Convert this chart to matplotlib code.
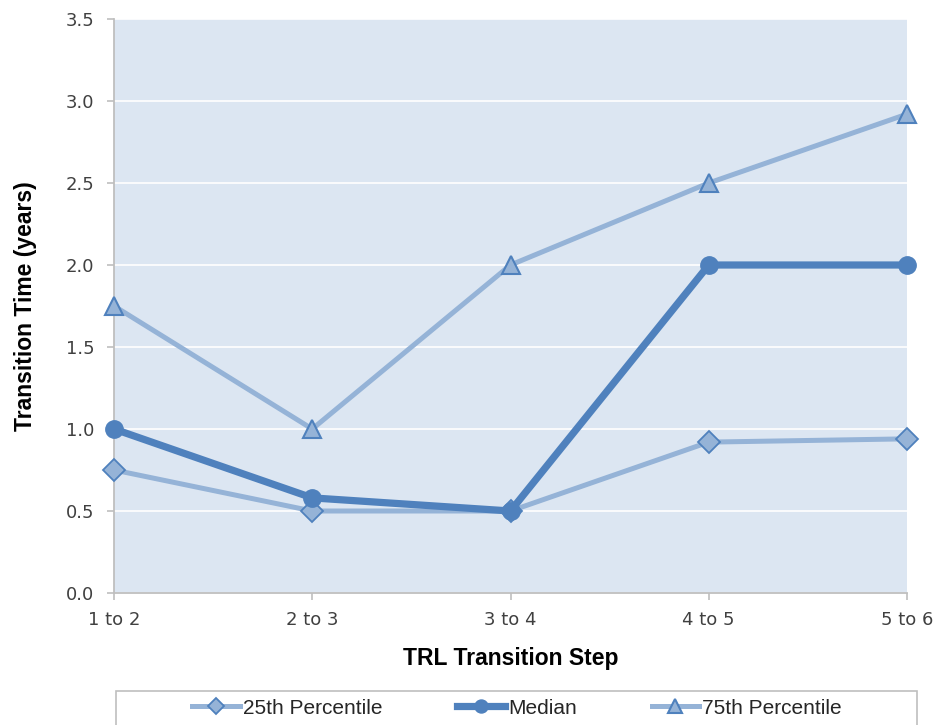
#%% importing modules
import matplotlib.pyplot as plt
from matplotlib.patches import Rectangle

#%% data
steps = ['1 to 2', '2 to 3', '3 to 4', '4 to 5', '5 to 6']
p25 = [0.75, 0.50, 0.50, 0.92, 0.94]
median = [1.00, 0.58, 0.50, 2.00, 2.00]
p75 = [1.75, 1.00, 2.00, 2.50, 2.92]

dark = '#4F81BD'
light = '#95B3D7'
x = list(range(len(steps)))

#%% figure
fig = plt.figure(figsize=(9.35, 7.25), dpi=100)
ax = fig.add_axes([114/935, 132/725, 793/935, 574/725])
ax.set_facecolor('#DCE6F2')

ax.plot(x, p25, color=light, lw=3.6, marker='D', ms=11, mfc=light, mec=dark,
        mew=1.3, clip_on=False, zorder=3, label='25th Percentile')
ax.plot(x, median, color=dark, lw=5.2, marker='o', ms=12.5, mfc=dark, mec=dark,
        clip_on=False, zorder=4, label='Median')
ax.plot(x, p75, color=light, lw=3.6, marker='^', ms=13, mfc=light, mec=dark,
        mew=1.5, clip_on=False, zorder=5, label='75th Percentile')

#%% axes
ax.set_xlim(0, 4)
ax.set_ylim(0, 3.5)
ax.set_xticks(x)
ax.set_xticklabels(steps)
ax.set_yticks([i * 0.5 for i in range(8)])
ax.set_yticklabels(['%.1f' % (i * 0.5) for i in range(8)])
ax.yaxis.grid(True, color='white', lw=1.2)
ax.set_axisbelow(True)
for s in ['top', 'right']:
    ax.spines[s].set_visible(False)
for s in ['left', 'bottom']:
    ax.spines[s].set_color('#BFBFBF')
    ax.spines[s].set_linewidth(1.3)
ax.tick_params(axis='both', colors='#BFBFBF', length=5, width=1.2,
               labelsize=13, labelcolor='#404040')
ax.tick_params(axis='y', pad=9)
ax.tick_params(axis='x', pad=8)
for lbl in ax.get_xticklabels() + ax.get_yticklabels():
    lbl.set_family('DejaVu Sans')

ax.set_xlabel('TRL Transition Step', fontsize=16.5, fontweight='bold',
              family='Liberation Sans', labelpad=13)
ax.set_ylabel('Transition Time (years)', fontsize=16.5, fontweight='bold',
              family='Liberation Sans', labelpad=21)

#%% legend box along the bottom
fig.patches.append(Rectangle((116/935, -0.02), 801/935, 34/725 + 0.02,
                             transform=fig.transFigure, facecolor='white',
                             edgecolor='#BFBFBF', lw=1.2))
leg = fig.legend(loc='center', bbox_to_anchor=(517/935, 17/725), ncol=3,
                 frameon=False, handlelength=2.3, handletextpad=0.12,
                 columnspacing=3.6, markerscale=0.75,
                 prop={'family': 'Liberation Sans', 'size': 15})
for t in leg.get_texts():
    t.set_color('#262626')

plt.savefig('out.png', dpi=100)
